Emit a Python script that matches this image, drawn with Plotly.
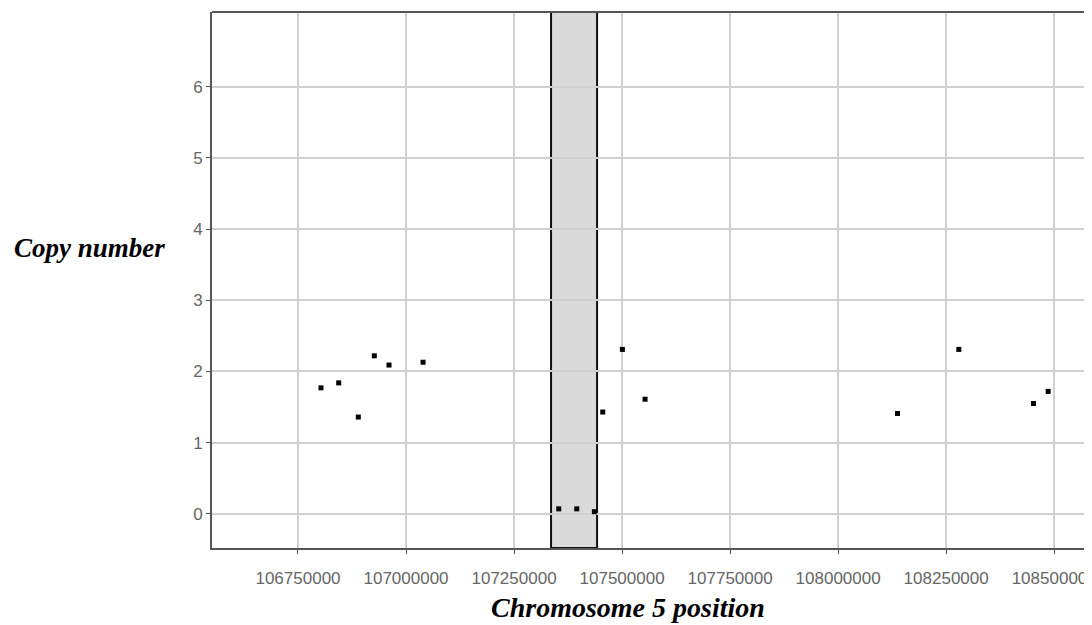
import plotly.graph_objects as go

positions = [106803200, 106844200, 106889600, 106926600, 106960600, 107039400,
             107353400, 107395100, 107435900, 107455300, 107500700, 107553200,
             108137300, 108279300, 108452000, 108486100]
copy_number = [1.77, 1.84, 1.36, 2.22, 2.09, 2.13,
               0.07, 0.07, 0.03, 1.43, 2.31, 1.61,
               1.41, 2.31, 1.55, 1.72]
region_start = 107335600
region_end = 107442100
x_ticks = [106750000, 107000000, 107250000, 107500000, 107750000, 108000000, 108250000, 108500000]
y_ticks = [0, 1, 2, 3, 4, 5, 6]

fig = go.Figure()
fig.add_trace(go.Scatter(
    x=positions, y=copy_number, mode="markers",
    marker=dict(symbol="square", size=5, color="black"),
    showlegend=False, hoverinfo="x+y"))

fig.add_shape(type="rect", xref="x", yref="paper", x0=region_start, x1=region_end,
              y0=0, y1=1, fillcolor="#dadada", line=dict(color="#111", width=2),
              layer="below")
fig.add_shape(type="line", xref="paper", yref="paper", x0=0, x1=1, y0=1, y1=1,
              line=dict(color="#555", width=2))

fig.update_layout(
    width=1092, height=617,
    margin=dict(l=204, r=0, t=4, b=77),
    paper_bgcolor="white", plot_bgcolor="white",
    xaxis=dict(range=[106551000, 108606000], tickvals=x_ticks,
               ticktext=[str(v) for v in x_ticks],
               showgrid=True, gridcolor="#d0d0d0", gridwidth=1.5,
               showline=True, linecolor="#555", linewidth=2,
               ticks="outside", ticklen=4, tickcolor="#555",
               tickfont=dict(family="Liberation Sans", size=17, color="#666"),
               ticklabelstandoff=10, ticklabeloverflow="allow", zeroline=False),
    yaxis=dict(range=[-0.48, 7.05], tickvals=y_ticks,
               showgrid=True, gridcolor="#d0d0d0", gridwidth=1.5,
               showline=True, linecolor="#555", linewidth=2,
               ticks="outside", ticklen=4, tickcolor="#555",
               tickfont=dict(family="Liberation Sans", size=17, color="#666"),
               zeroline=False),
)
fig.add_annotation(text="<b><i>Copy number</i></b>", xref="paper", yref="paper",
                   x=(89 - 212) / 888, y=(548 - 248) / 536,
                   xanchor="center", yanchor="middle", showarrow=False,
                   font=dict(family="Liberation Serif", size=27, color="black"))
fig.add_annotation(text="<b><i>Chromosome 5 position</i></b>", xref="paper", yref="paper",
                   x=(628 - 212) / 888, y=-(607 - 548) / 536,
                   xanchor="center", yanchor="middle", showarrow=False,
                   font=dict(family="Liberation Serif", size=28, color="black"))

fig.write_html("out.html")
